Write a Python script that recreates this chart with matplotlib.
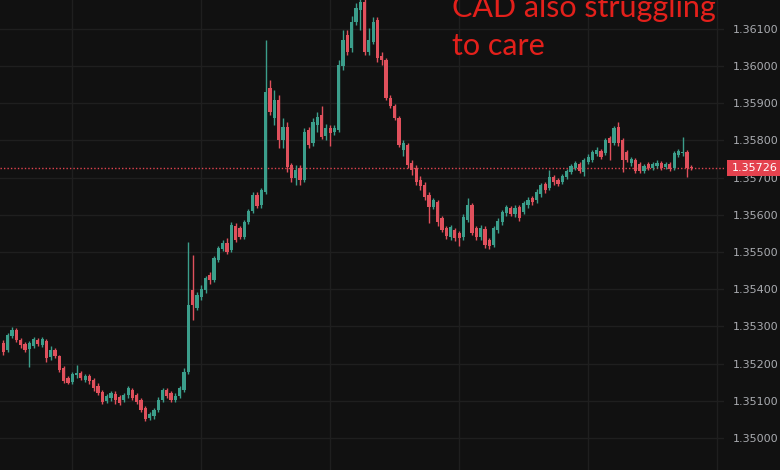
import numpy as np
import matplotlib
matplotlib.use('Agg')
from matplotlib import pyplot as plt
from matplotlib.patches import Rectangle
import matplotlib.transforms as mtransforms

# USD/CAD candles (oldest first)
opens = [1.35255, 1.35237, 1.35274, 1.35290, 1.35263, 1.35253, 1.35239, 1.35247, 1.35263, 1.35250,
         1.35261, 1.35218, 1.35237, 1.35220, 1.35188, 1.35161, 1.35151, 1.35169, 1.35175, 1.35156,
         1.35167, 1.35156, 1.35140, 1.35124, 1.35099, 1.35108, 1.35118, 1.35110, 1.35102, 1.35116,
         1.35129, 1.35116, 1.35102, 1.35081, 1.35054, 1.35059, 1.35075, 1.35102, 1.35129, 1.35121,
         1.35102, 1.35113, 1.35129, 1.35177, 1.35398, 1.35349, 1.35379, 1.35398, 1.35438, 1.35425,
         1.35478, 1.35508, 1.35524, 1.35505, 1.35570, 1.35564, 1.35540, 1.35581, 1.35610, 1.35653,
         1.35626, 1.35661, 1.35941, 1.35860, 1.35909, 1.35801, 1.35836, 1.35734, 1.35699, 1.35726,
         1.35694, 1.35828, 1.35793, 1.35841, 1.35868, 1.35812, 1.35833, 1.35823, 1.35828, 1.36000,
         1.36083, 1.36048, 1.36118, 1.36150, 1.36172, 1.36038, 1.36064, 1.36124, 1.36027, 1.36016,
         1.35914, 1.35892, 1.35860, 1.35774, 1.35788, 1.35739, 1.35726, 1.35694, 1.35680, 1.35653,
         1.35621, 1.35634, 1.35591, 1.35564, 1.35540, 1.35559, 1.35551, 1.35540, 1.35586, 1.35626,
         1.35564, 1.35540, 1.35562, 1.35532, 1.35519, 1.35559, 1.35581, 1.35605, 1.35618, 1.35602,
         1.35621, 1.35607, 1.35626, 1.35645, 1.35640, 1.35656, 1.35683, 1.35672, 1.35702, 1.35694,
         1.35688, 1.35702, 1.35715, 1.35726, 1.35737, 1.35715, 1.35742, 1.35747, 1.35763, 1.35771,
         1.35766, 1.35806, 1.35793, 1.35836, 1.35801, 1.35769, 1.35739, 1.35747, 1.35737, 1.35718,
         1.35737, 1.35726, 1.35731, 1.35739, 1.35728, 1.35737, 1.35726, 1.35761, 1.35766, 1.35769,
         1.35728]
closes = [1.35231, 1.35277, 1.35290, 1.35263, 1.35250, 1.35237, 1.35255, 1.35266, 1.35253, 1.35266,
          1.35215, 1.35237, 1.35220, 1.35183, 1.35153, 1.35148, 1.35172, 1.35175, 1.35161, 1.35167,
          1.35153, 1.35134, 1.35121, 1.35097, 1.35113, 1.35121, 1.35102, 1.35094, 1.35116, 1.35134,
          1.35108, 1.35097, 1.35075, 1.35051, 1.35065, 1.35075, 1.35102, 1.35129, 1.35113, 1.35102,
          1.35113, 1.35134, 1.35177, 1.35358, 1.35358, 1.35384, 1.35401, 1.35430, 1.35425, 1.35484,
          1.35511, 1.35524, 1.35500, 1.35573, 1.35532, 1.35540, 1.35581, 1.35610, 1.35653, 1.35624,
          1.35667, 1.35930, 1.35876, 1.35909, 1.35801, 1.35836, 1.35728, 1.35699, 1.35720, 1.35694,
          1.35823, 1.35788, 1.35849, 1.35863, 1.35809, 1.35833, 1.35820, 1.35833, 1.36003, 1.36070,
          1.36038, 1.36118, 1.36156, 1.36172, 1.36038, 1.36070, 1.36118, 1.36021, 1.36016, 1.35914,
          1.35892, 1.35860, 1.35788, 1.35793, 1.35734, 1.35720, 1.35688, 1.35677, 1.35648, 1.35621,
          1.35640, 1.35581, 1.35559, 1.35543, 1.35567, 1.35538, 1.35538, 1.35594, 1.35626, 1.35551,
          1.35540, 1.35564, 1.35519, 1.35516, 1.35564, 1.35583, 1.35607, 1.35621, 1.35602, 1.35618,
          1.35591, 1.35632, 1.35640, 1.35634, 1.35661, 1.35680, 1.35667, 1.35702, 1.35688, 1.35683,
          1.35704, 1.35718, 1.35731, 1.35739, 1.35718, 1.35747, 1.35755, 1.35769, 1.35774, 1.35755,
          1.35801, 1.35793, 1.35833, 1.35793, 1.35747, 1.35747, 1.35750, 1.35718, 1.35718, 1.35731,
          1.35726, 1.35737, 1.35739, 1.35726, 1.35737, 1.35723, 1.35766, 1.35771, 1.35769, 1.35726,
          1.35726]
highs = [1.35263, 1.35282, 1.35298, 1.35296, 1.35269, 1.35258, 1.35261, 1.35271, 1.35269, 1.35271,
         1.35266, 1.35247, 1.35242, 1.35223, 1.35194, 1.35167, 1.35177, 1.35196, 1.35180, 1.35172,
         1.35172, 1.35161, 1.35148, 1.35129, 1.35118, 1.35126, 1.35126, 1.35116, 1.35121, 1.35140,
         1.35134, 1.35121, 1.35108, 1.35086, 1.35070, 1.35081, 1.35110, 1.35134, 1.35134, 1.35126,
         1.35121, 1.35140, 1.35188, 1.35527, 1.35492, 1.35392, 1.35411, 1.35435, 1.35446, 1.35489,
         1.35516, 1.35532, 1.35538, 1.35581, 1.35578, 1.35570, 1.35586, 1.35616, 1.35661, 1.35661,
         1.35672, 1.36070, 1.35962, 1.35935, 1.35922, 1.35860, 1.35849, 1.35739, 1.35734, 1.35734,
         1.35833, 1.35836, 1.35860, 1.35876, 1.35892, 1.35844, 1.35841, 1.35841, 1.36016, 1.36097,
         1.36097, 1.36134, 1.36169, 1.36183, 1.36185, 1.36102, 1.36132, 1.36132, 1.36038, 1.36021,
         1.35922, 1.35898, 1.35866, 1.35801, 1.35793, 1.35747, 1.35734, 1.35704, 1.35688, 1.35661,
         1.35645, 1.35640, 1.35597, 1.35570, 1.35573, 1.35564, 1.35556, 1.35602, 1.35645, 1.35632,
         1.35570, 1.35573, 1.35570, 1.35538, 1.35570, 1.35591, 1.35613, 1.35626, 1.35624, 1.35626,
         1.35626, 1.35637, 1.35648, 1.35651, 1.35669, 1.35685, 1.35688, 1.35720, 1.35707, 1.35699,
         1.35710, 1.35723, 1.35737, 1.35745, 1.35742, 1.35753, 1.35763, 1.35774, 1.35782, 1.35777,
         1.35806, 1.35812, 1.35839, 1.35849, 1.35806, 1.35774, 1.35755, 1.35753, 1.35742, 1.35737,
         1.35742, 1.35742, 1.35747, 1.35745, 1.35742, 1.35742, 1.35771, 1.35777, 1.35809, 1.35774,
         1.35734]
lows = [1.35223, 1.35231, 1.35269, 1.35258, 1.35242, 1.35231, 1.35191, 1.35242, 1.35247, 1.35245,
        1.35204, 1.35210, 1.35215, 1.35177, 1.35148, 1.35145, 1.35145, 1.35161, 1.35156, 1.35151,
        1.35145, 1.35126, 1.35116, 1.35091, 1.35094, 1.35099, 1.35091, 1.35089, 1.35097, 1.35108,
        1.35102, 1.35091, 1.35070, 1.35046, 1.35048, 1.35051, 1.35070, 1.35097, 1.35108, 1.35097,
        1.35097, 1.35108, 1.35124, 1.35172, 1.35317, 1.35344, 1.35371, 1.35390, 1.35414, 1.35419,
        1.35473, 1.35503, 1.35495, 1.35500, 1.35527, 1.35535, 1.35535, 1.35575, 1.35605, 1.35618,
        1.35618, 1.35656, 1.35868, 1.35841, 1.35780, 1.35780, 1.35715, 1.35688, 1.35680, 1.35680,
        1.35688, 1.35780, 1.35785, 1.35823, 1.35804, 1.35801, 1.35785, 1.35814, 1.35823, 1.35989,
        1.36030, 1.36038, 1.36110, 1.36097, 1.36030, 1.36030, 1.36059, 1.36011, 1.36003, 1.35909,
        1.35887, 1.35855, 1.35782, 1.35758, 1.35726, 1.35707, 1.35680, 1.35667, 1.35640, 1.35578,
        1.35616, 1.35570, 1.35554, 1.35535, 1.35532, 1.35530, 1.35516, 1.35532, 1.35581, 1.35546,
        1.35532, 1.35532, 1.35511, 1.35508, 1.35513, 1.35551, 1.35573, 1.35597, 1.35597, 1.35594,
        1.35583, 1.35602, 1.35618, 1.35626, 1.35632, 1.35648, 1.35659, 1.35667, 1.35680, 1.35677,
        1.35683, 1.35696, 1.35710, 1.35720, 1.35712, 1.35704, 1.35737, 1.35742, 1.35758, 1.35750,
        1.35761, 1.35747, 1.35788, 1.35785, 1.35715, 1.35742, 1.35731, 1.35712, 1.35712, 1.35712,
        1.35720, 1.35720, 1.35726, 1.35720, 1.35723, 1.35718, 1.35720, 1.35755, 1.35758, 1.35702,
        1.35720]

last_price = 1.35726
price_ticks = [1.350, 1.351, 1.352, 1.353, 1.354, 1.355, 1.356, 1.357, 1.358, 1.359, 1.360, 1.361]
note_lines = ["CAD also struggling", "to care"]

bg = '#111111'
up_col = '#3b9e8b'
down_col = '#e0505c'

fig, ax = plt.subplots(figsize=(7.8, 4.7), dpi=100)
fig.patch.set_facecolor(bg)
ax.set_facecolor(bg)
ax.set_position([0, 0, 724 / 780, 1])

x = np.arange(len(closes))
o = np.array(opens)
c = np.array(closes)
cols = [up_col if cc >= oo else down_col for oo, cc in zip(o, c)]

# wicks then bodies
ax.vlines(x, lows, highs, colors=cols, linewidth=1, zorder=3)
body_h = np.maximum(np.abs(c - o), 0.000012)
ax.bar(x, body_h, bottom=np.minimum(o, c), width=0.75, color=cols, linewidth=0, zorder=4)

ax.set_xlim(-0.8, 167.6)
ax.set_ylim(1.34914, 1.36177)

for s in ax.spines.values():
    s.set_visible(False)

ax.set_xticks(np.arange(16, 170, 30))
ax.tick_params(axis='x', length=0, labelbottom=False)
ax.yaxis.tick_right()
ax.set_yticks(price_ticks)
ax.set_yticklabels(['%.5f' % p for p in price_ticks])
ax.tick_params(axis='y', length=0, pad=6, labelsize=8, labelcolor='#a9abb0')
ax.grid(True, color='#1f1f1f', linewidth=1)
ax.set_axisbelow(True)

# last price line and tag
ax.axhline(last_price, color='#e0434f', linestyle=(0, (1, 1.5)), linewidth=1, zorder=2)
trans = mtransforms.blended_transform_factory(fig.transFigure, ax.transData)
tag_h = 0.00043
fig.patches.append(Rectangle((727 / 780, last_price - tag_h / 2), 53 / 780, tag_h,
                             transform=trans, facecolor='#e4424e', edgecolor='none', zorder=5))
fig.text(732 / 780, last_price, '%.5f' % last_price, transform=trans, color='white',
         fontsize=8, va='center', ha='left', zorder=6)

# red annotation at the top
fig.text(452 / 780, 1 - 17 / 470, note_lines[0], color='#e3201b', fontsize=22,
         family='Lato', va='baseline')
fig.text(452 / 780, 1 - 55 / 470, note_lines[1], color='#e3201b', fontsize=22,
         family='Lato', va='baseline')

plt.savefig('out.png', dpi=100, facecolor=bg)
